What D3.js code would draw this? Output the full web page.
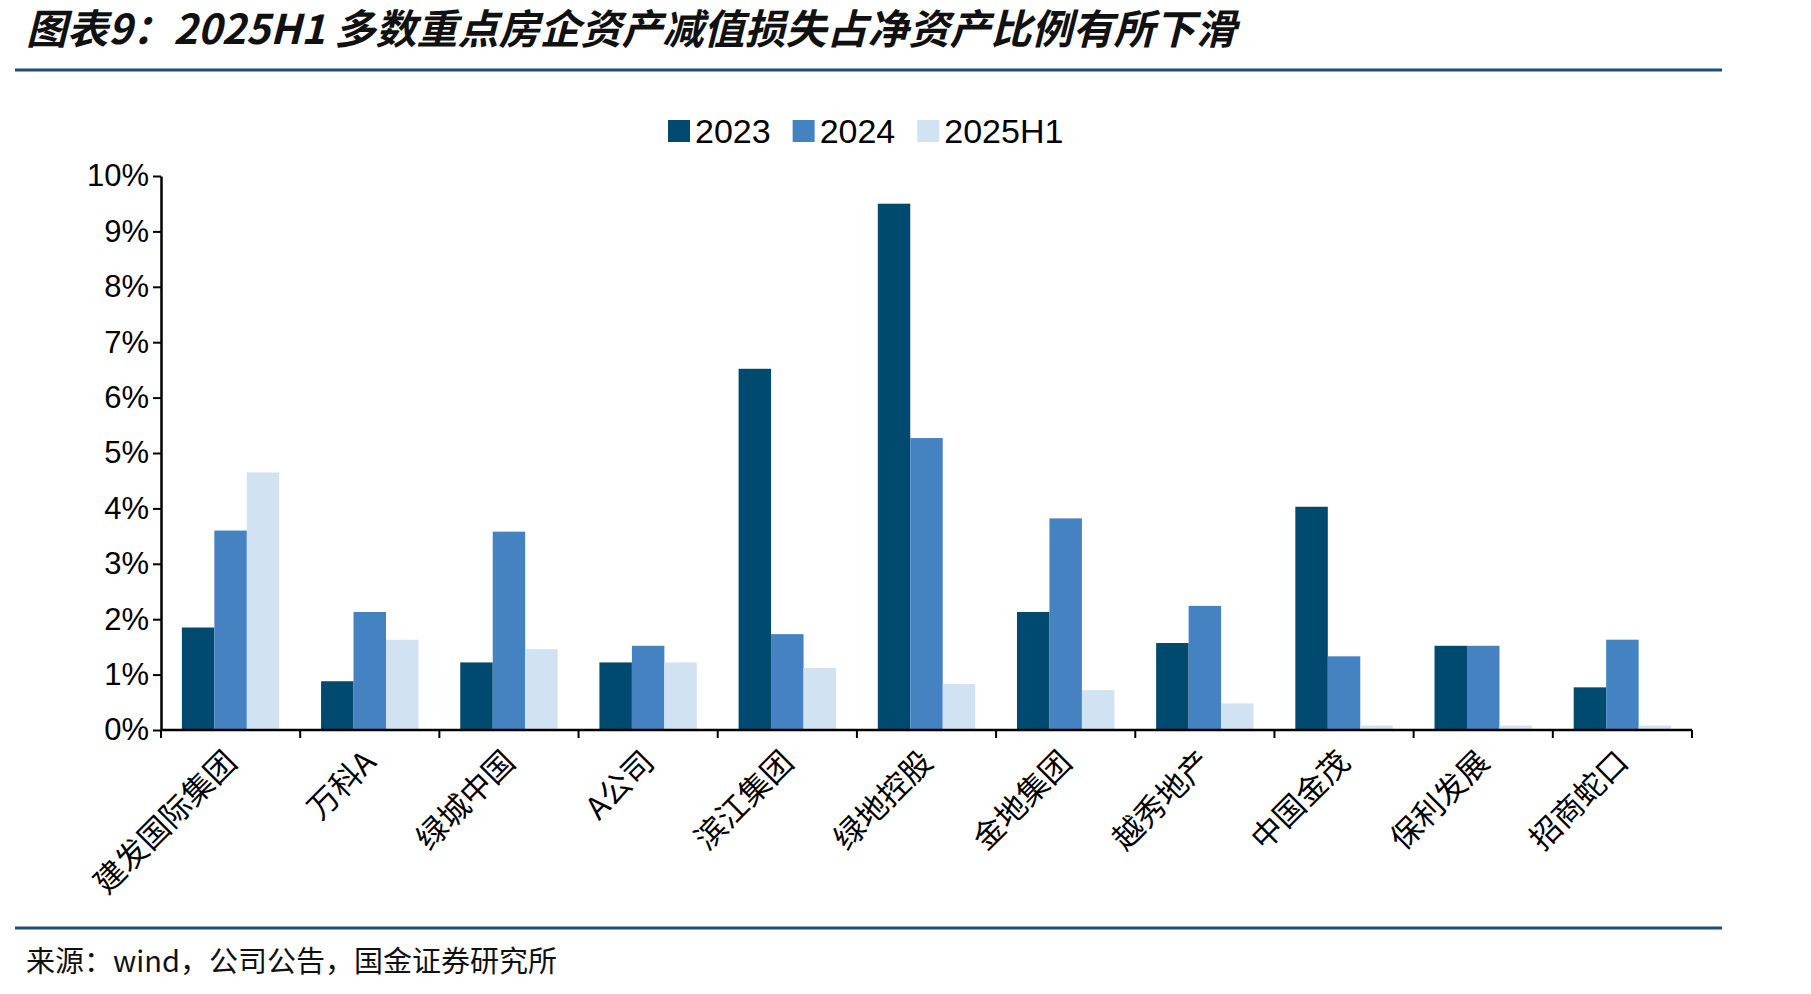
<!DOCTYPE html>
<html><head><meta charset="utf-8">
<script src="https://cdn.jsdelivr.net/npm/d3@7"></script>
<style>body{margin:0;background:#fff}svg{display:block}</style>
</head><body>
<script>
const categories=["建发国际集团","万科A","绿城中国","A公司","滨江集团","绿地控股","金地集团","越秀地产","中国金茂","保利发展","招商蛇口"];
const seriesNames=["2023","2024","2025H1"];
const s2023=[1.85,0.88,1.22,1.22,6.52,9.5,2.13,1.57,4.03,1.52,0.77];
const s2024=[3.6,2.13,3.58,1.52,1.73,5.27,3.82,2.24,1.33,1.52,1.63];
const s2025=[4.65,1.63,1.46,1.22,1.12,0.83,0.72,0.48,0.08,0.08,0.08];
const yTicks=[0,1,2,3,4,5,6,7,8,9,10];
const colors=["#004a70","#4582c1","#d1e3f3"];
const series=[s2023,s2024,s2025];

const W=1811,H=994;
const svg=d3.select("body").append("svg").attr("width",W).attr("height",H);
const cjk="'Noto Sans CJK SC',sans-serif";
svg.append("text").attr("x",26).attr("y",44).attr("font-family",cjk).attr("font-size",41)
 .attr("font-weight","bold").attr("font-style","italic").attr("fill","#111")
 .text("图表9：2025H1 多数重点房企资产减值损失占净资产比例有所下滑");
[70,928].forEach(y=>svg.append("line").attr("x1",15).attr("x2",1722).attr("y1",y).attr("y2",y).attr("stroke","#1c4f78").attr("stroke-width",3));
svg.append("text").attr("x",26).attr("y",972).attr("font-family",cjk).attr("font-size",29).attr("fill","#111")
 .text("来源：wind，公司公告，国金证券研究所");

const x0=161,x1=1692,yTop=176,yBot=730;
const x=d3.scaleBand().domain(categories).range([x0,x1]).paddingInner(0.3).paddingOuter(0.15);
const xs=d3.scaleBand().domain(seriesNames).range([0,x.bandwidth()]);
const y=d3.scaleLinear().domain([0,10]).range([yBot,yTop]);

series.forEach((arr,si)=>{
 svg.append("g").selectAll("rect").data(arr).join("rect")
  .attr("x",(d,i)=>x(categories[i])+xs(seriesNames[si]))
  .attr("width",xs.bandwidth())
  .attr("y",d=>y(d)).attr("height",d=>yBot-y(d)).attr("fill",colors[si]);
});

const ya=svg.append("g").attr("transform",`translate(${x0},0)`)
 .call(d3.axisLeft(y).tickValues(yTicks).tickFormat(d=>d+"%").tickSize(8).tickSizeOuter(0));
ya.select(".domain").attr("stroke","#000").attr("stroke-width",2.5);
ya.selectAll(".tick line").attr("stroke","#000").attr("stroke-width",2);
ya.selectAll("text").attr("font-family","'Liberation Sans',Arial,sans-serif").attr("font-size",31).attr("fill","#000").attr("x",-12);

const step=(x1-x0)/categories.length;
const xa=svg.append("g");
xa.append("line").attr("x1",x0).attr("x2",x1).attr("y1",yBot).attr("y2",yBot).attr("stroke","#000").attr("stroke-width",2.5);
d3.range(categories.length+1).forEach(i=>xa.append("line").attr("x1",x0+i*step).attr("x2",x0+i*step).attr("y1",yBot).attr("y2",yBot+8).attr("stroke","#000").attr("stroke-width",2));
categories.forEach(c=>{
 const cx=x(c)+x.bandwidth()/2+8;
 xa.append("text").attr("transform",`translate(${cx},${yBot+34}) rotate(-45)`).attr("text-anchor","end")
  .attr("font-family",cjk).attr("font-size",31).attr("fill","#000").text(c);
});

const lg=svg.append("g").attr("transform","translate(668,131)");
let lx=0;
seriesNames.forEach((n,i)=>{
 lg.append("rect").attr("x",lx).attr("y",-11).attr("width",22).attr("height",22).attr("fill",colors[i]);
 const t=lg.append("text").attr("x",lx+27).attr("y",12).attr("font-family","'Liberation Sans',Arial,sans-serif").attr("font-size",34).attr("fill","#000").text(n);
 lx+=27+t.node().getComputedTextLength()+22;
});
</script>
</body></html>
